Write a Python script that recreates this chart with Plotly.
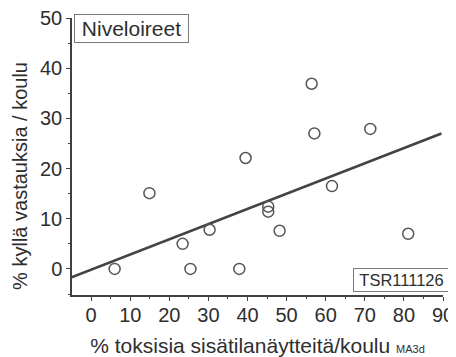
import plotly.graph_objects as go

# data
toksiset = [6.0, 14.9, 23.4, 25.4, 30.3, 37.9, 39.5, 45.3, 45.3, 48.2, 56.4, 57.1, 61.6, 71.4, 81.1]
kylla = [0.0, 15.1, 5.0, 0.0, 7.8, 0.0, 22.1, 12.4, 11.4, 7.6, 36.9, 27.0, 16.5, 27.9, 7.0]
fit_x = [-5.0, 89.6]
fit_y = [-1.65, 27.0]
x_ticks = [0, 10, 20, 30, 40, 50, 60, 70, 80, 90]
y_ticks = [0, 10, 20, 30, 40, 50]

font = "Liberation Sans, Arial, sans-serif"
ink = "#2e2e2e"
axc = "#404040"

fig = go.Figure()
fig.add_trace(go.Scatter(x=fit_x, y=fit_y, mode="lines", cliponaxis=False,
                         line=dict(color="#434343", width=2.6), hoverinfo="skip"))
fig.add_trace(go.Scatter(x=toksiset, y=kylla, mode="markers",
                         marker=dict(symbol="circle-open", size=11,
                                     line=dict(color="#555555", width=1.5), color="#555555")))

# page body has an 8px default margin, so the figure is 8px smaller and offset
fig.update_layout(
    width=448, height=349,
    margin=dict(l=64, r=13, t=10, b=62, autoexpand=False),
    paper_bgcolor="white", plot_bgcolor="white",
    showlegend=False,
    font=dict(family=font, color=ink),
    xaxis=dict(range=[-4.9, 90], tickvals=x_ticks, showgrid=False, zeroline=False,
               automargin=False, ticklabeloverflow="allow", ticklabelstandoff=-3,
               showline=True, linecolor=axc, linewidth=1.5,
               ticks="outside", ticklen=4, tickwidth=1.3, tickcolor=axc,
               minor=dict(dtick=5, tick0=0, ticks="outside", ticklen=2.5, tickcolor=axc),
               tickfont=dict(size=20, family=font, color=ink),
               title=dict(text="% toksisia sisätilanäytteitä/koulu <span style='font-size:11px'>MA3d</span>",
                          font=dict(size=21, family=font, color=ink), standoff=14)),
    yaxis=dict(range=[-5.2, 50], tickvals=y_ticks, showgrid=False, zeroline=False,
               automargin=False, ticklabeloverflow="allow",
               showline=True, linecolor=axc, linewidth=1.5,
               ticks="outside", ticklen=4, tickwidth=1.3, tickcolor=axc,
               minor=dict(dtick=5, tick0=0, ticks="outside", ticklen=2.5, tickcolor=axc),
               tickfont=dict(size=20, family=font, color=ink)),
)

fig.add_annotation(xref="paper", yref="paper", x=0, y=0.43, xanchor="center", yanchor="middle",
                   xshift=-52, textangle=-90,
                   text="% kyllä vastauksia / koulu", showarrow=False,
                   font=dict(size=20, family=font, color=ink))
fig.add_annotation(xref="paper", yref="paper", x=0.005, y=1.0144, xanchor="left", yanchor="top",
                   text="Niveloireet", showarrow=False, width=111, height=25, align="center",
                   font=dict(size=21, family=font, color=ink),
                   bordercolor="#7a7a7a", borderwidth=1, borderpad=1, bgcolor="white")
fig.add_annotation(xref="paper", yref="paper", x=1.019, y=0.011, xanchor="right", yanchor="bottom",
                   text="TSR111126", showarrow=False, width=93, height=20, align="center",
                   font=dict(size=16.5, family=font, color=ink),
                   bordercolor="#7a7a7a", borderwidth=1, borderpad=1, bgcolor="white")

fig.write_html("out.html")
